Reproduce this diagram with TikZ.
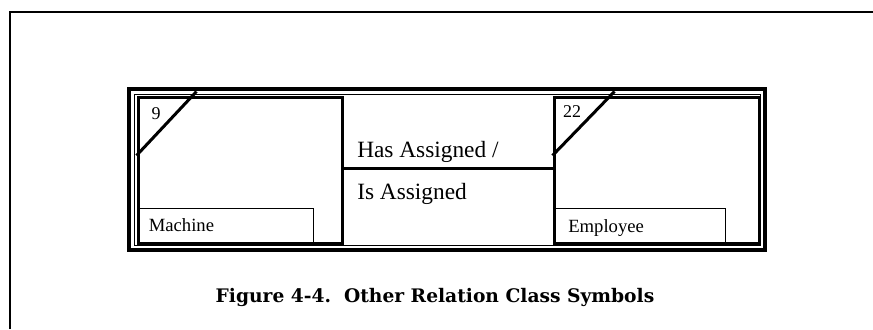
\documentclass[tikz,border=0pt]{standalone}
\usepackage{fontspec}
\setmainfont{Liberation Serif}
\newfontfamily\capfont{DejaVu Serif}
\usepackage{tikz}
\usetikzlibrary{positioning,calc}

\begin{document}
\begin{tikzpicture}[
    x=0.75pt, y=-0.75pt,
    entity/.style={rectangle, draw, line width=2.25pt, inner sep=0pt, minimum width=153pt, minimum height=109.5pt},
    namebox/.style={rectangle, draw, line width=0.75pt, inner sep=0pt, minimum height=27pt},
    nametext/.style={font=\fontsize{14}{16}\selectfont, inner sep=0pt, anchor=base west},
    idtext/.style={font=\fontsize{13.5}{16}\selectfont, inner sep=0pt},
    reltext/.style={font=\fontsize{17.5}{20}\selectfont, inner sep=0pt, anchor=base west},
    rel/.style={line width=2.25pt},
    corner/.style={line width=2.25pt}
]
\useasboundingbox (0,0) rectangle (873,329);

% page frame
\draw[line width=1.5pt] (10,329) -- (10,12) -- (873,12);

% double border
\node[rectangle, draw, line width=3pt, inner sep=0pt, minimum width=477pt, minimum height=120.75pt] (outer) at (447,169.5) {};
\node[rectangle, draw, line width=0.75pt, inner sep=0pt, minimum width=469.5pt, minimum height=113.25pt] (inner) at (447,169.5) {};

% Entity: Machine
\node[entity] (machine) at (240,170) {};
\node[namebox, minimum width=132pt, anchor=south west] (machine-box) at (machine.south west) {};
\node[nametext] (machine-name) at (148.5,231) {Machine};
\coordinate (machine-cut) at ($(machine.north west)+(60,-4)$);
\draw[corner] (machine-cut) -- ($(machine.north west)+(0,60)$);
\node[idtext] (machine-id) at (156,114) {9};

% Entity: Employee
\node[entity, minimum width=153.75pt] (employee) at (656.5,170) {};
\node[namebox, minimum width=129pt, anchor=south west] (employee-box) at (employee.south west) {};
\node[nametext] (employee-name) at (568,232) {Employee};
\coordinate (employee-cut) at ($(employee.north west)+(62,-4)$);
\draw[corner] (employee-cut) -- ($(employee.north west)+(0,60)$);
\node[idtext] (employee-id) at (572,112) {22};

% Relation
\draw[rel] ([yshift=1.5pt]machine.east) -- ([yshift=1.5pt]employee.west);
\node[reltext] (rel-fwd) at (357,157) {Has Assigned /};
\node[reltext] (rel-inv) at (357,199) {Is Assigned};

% Caption
\node[font=\capfont\bfseries\fontsize{14}{16}\selectfont, inner sep=0pt] (caption) at (435,297) {Figure 4-4.\ \ Other Relation Class Symbols};

\end{tikzpicture}
\end{document}
